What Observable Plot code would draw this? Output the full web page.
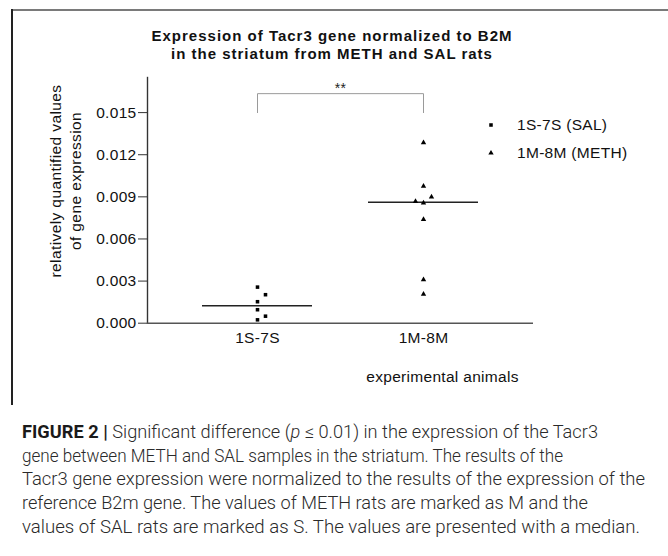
<!DOCTYPE html>
<html><head><meta charset="utf-8">
<script src="https://cdn.jsdelivr.net/npm/d3@7"></script>
<script src="https://cdn.jsdelivr.net/npm/@observablehq/plot@0.6"></script>
<style>
html,body{margin:0;padding:0;background:#fff;}
#wrap{position:relative;width:668px;height:556px;overflow:hidden;font-family:"Liberation Sans",Arial,sans-serif;color:#111;}
.t{position:absolute;white-space:nowrap;line-height:1;}
#chart{position:absolute;left:0;top:0;}
</style></head><body><div id="wrap"><div id="chart"></div></div>
<script>
// ---- data ----
const groups = ["1S-7S", "1M-8M"];
const salValues = [0.00257, 0.00203, 0.00153, 0.00096, 0.00050, 0.00024];
const salColumn = [0, 1, 0, 0, 1, 0];
const methValues = [0.01286, 0.00976, 0.00900, 0.00867, 0.00857, 0.00739, 0.00310, 0.00207];
const methColumn = [0, 0, 1, -1, 0, 0, 0, 0];
const yTicks = [0, 0.003, 0.006, 0.009, 0.012, 0.015];
const yMax = 0.0175;
const bracketY = [0.015, 0.01635];
const starY = [0.0167];
const starText = ["**"];
const legendLabels = ["1S-7S (SAL)", "1M-8M (METH)"];
const symbols = ["square", "triangle"];
const titleLines = ["Expression of Tacr3 gene normalized to B2M", "in the striatum from METH and SAL rats"];
const yLabelLines = ["relatively quantified values", "of gene expression"];
const xLabel = "experimental animals";
const captionLines = [
  ["FIGURE 2 | ", "Significant difference (", "p", " ≤ 0.01) in the expression of the Tacr3"],
  ["", "gene between METH and SAL samples in the striatum. The results of the"],
  ["", "Tacr3 gene expression were normalized to the results of the expression of the"],
  ["", "reference B2m gene. The values of METH rats are marked as M and the"],
  ["", "values of SAL rats are marked as S. The values are presented with a median."]
];
const captionWidths = [576, 541, 623, 566, 618];

// ---- build table ----
const points = [
  ...salValues.map((v, i) => ({group: groups[0], value: v, col: salColumn[i]})),
  ...methValues.map((v, i) => ({group: groups[1], value: v, col: methColumn[i]}))
];
const bracket = [
  {x: groups[0], y: bracketY[0]}, {x: groups[0], y: bracketY[1]},
  {x: groups[1], y: bracketY[1]}, {x: groups[1], y: bracketY[0]}
];
const dotR = 2;
const dotMarks = [-1, 0, 1].map(c => Plot.dot(points.filter(d => d.col === c), {
  x: "group", y: "value", symbol: "group", fill: "#000", stroke: "none", r: dotR, dx: c * 8
}));

const chart = Plot.plot({
  width: 668, height: 400,
  marginLeft: 147, marginRight: 135, marginTop: 77, marginBottom: 77.3,
  style: {fontFamily: '"Liberation Sans", Arial, sans-serif', fontSize: "15.5px", letterSpacing: "0.3px", color: "#111", background: "transparent", overflow: "visible"},
  x: {type: "band", domain: groups, paddingInner: 0.3373, paddingOuter: 0.3313, label: null},
  y: {domain: [0, yMax], label: null},
  symbol: {domain: groups, range: symbols},
  marks: [
    Plot.axisY({ticks: yTicks, tickFormat: d3.format(".3f"), tickSize: 9, tickPadding: 2, stroke: "#333", label: null}),
    Plot.axisX({tickSize: 0, tickPadding: 9, label: null}),
    Plot.frame({anchor: "left", stroke: "#333", strokeWidth: 1.4}),
    Plot.ruleY([0], {stroke: "#555", strokeWidth: 1.4}),
    Plot.line(bracket, {x: "x", y: "y", stroke: "#9a9a9a", strokeWidth: 1}),
    Plot.text(starText, {y: starY, text: d => d, fontSize: 14, fill: "#222"}),
    Plot.tickY(points, Plot.groupX({y: "median"}, {x: "group", y: "value", stroke: "#222", strokeWidth: 1.4})),
    ...dotMarks
  ]
});
document.getElementById("chart").appendChild(chart);

// ---- text helpers ----
const wrap = document.getElementById("wrap");
function addText(parts, o) {
  const el = document.createElement("div");
  el.className = "t";
  el.style.fontFamily = o.family || '"Liberation Sans", Arial, sans-serif';
  el.style.fontSize = o.size + "px";
  el.style.fontWeight = o.weight || 400;
  el.style.letterSpacing = (o.ls || 0) + "px";
  el.style.color = o.color || "#111";
  if (Array.isArray(parts)) {
    parts.forEach((p, i) => {
      const s = document.createElement("span");
      s.textContent = p;
      if (o.styler) o.styler(s, i);
      el.appendChild(s);
    });
  } else el.textContent = parts;
  wrap.appendChild(el);
  const asc = o.ascent || 0.8465;
  el.style.top = (o.baseline - asc * o.size) + "px";
  let w = el.getBoundingClientRect().width;
  if (o.target) {
    el.style.transformOrigin = "0 0";
    el.style.transform = `scaleX(${o.target / w})`;
    w = o.target;
  }
  const a = o.anchor || "start";
  el.style.left = (a === "middle" ? o.x - w / 2 : a === "end" ? o.x - w : o.x) + "px";
  return el;
}

// title
titleLines.forEach((t, i) => addText(t, {x: 332, baseline: 40.5 + i * 17.7, size: 15, weight: 700, ls: 1, anchor: "middle", color: "#111"}));

// y label (rotated)
const yl = document.createElement("div");
yl.style.cssText = 'position:absolute;left:66px;top:181px;transform:translate(-50%,-50%) rotate(-90deg);text-align:center;white-space:nowrap;font-family:"Liberation Sans",Arial,sans-serif;font-size:15.5px;letter-spacing:0.4px;line-height:20px;color:#111;';
yl.innerHTML = yLabelLines.join("<br>");
wrap.appendChild(yl);

// x label
addText(xLabel, {x: 442.5, baseline: 382.5, size: 15.5, ls: 0.3, anchor: "middle"});

// legend
legendLabels.forEach((lab, i) => {
  const cy = 124.7 + i * 28.3;
  const svg = d3.select(wrap).append("svg").style("position", "absolute")
    .style("left", "481px").style("top", (cy - 10) + "px").attr("width", 20).attr("height", 20);
  const sym = symbols[i] === "square" ? d3.symbolSquare : d3.symbolTriangle;
  svg.append("path").attr("transform", "translate(10,10)")
    .attr("d", d3.symbol(sym, dotR * dotR * Math.PI)()).attr("fill", "#000");
  addText(lab, {x: 517, baseline: cy + 5.5, size: 15.5, ls: 0.3});
});

// frame border
const borderTop = document.createElement("div");
borderTop.style.cssText = "position:absolute;left:11px;top:9px;width:660px;height:1.5px;background:#7a7a7a;";
wrap.appendChild(borderTop);
const borderLeft = document.createElement("div");
borderLeft.style.cssText = "position:absolute;left:11px;top:9px;width:1.5px;height:396px;background:#222;";
wrap.appendChild(borderLeft);

// caption
captionLines.forEach((parts, i) => {
  addText(parts, {
    x: 22, baseline: 438.5 + i * 23.8, size: 17.5, weight: 300, family: 'Roboto, "Liberation Sans", sans-serif',
    color: "#2a2a2a", ascent: 0.8415, target: captionWidths[i],
    styler: (s, j) => {
      if (i === 0 && j === 0) { s.style.fontWeight = 700; s.style.color = "#1a1a1a"; }
      if (i === 0 && j === 2) { s.style.fontStyle = "italic"; }
    }
  });
});
</script></body></html>
